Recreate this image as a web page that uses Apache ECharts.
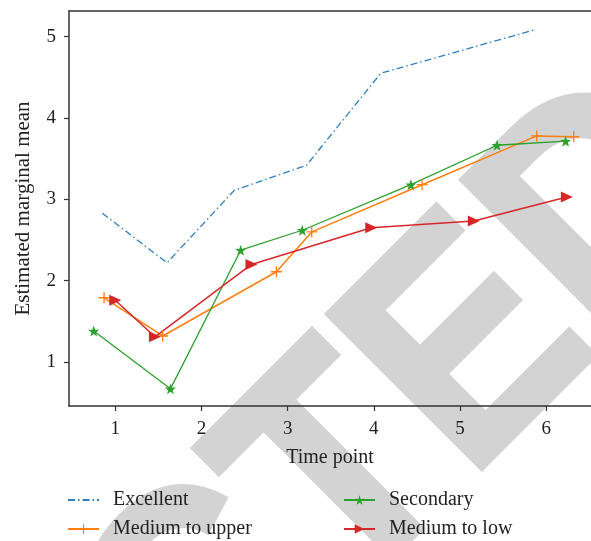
<!DOCTYPE html>
<html>
<head>
<meta charset="utf-8">
<script src="https://cdn.jsdelivr.net/npm/echarts@6/dist/echarts.min.js"></script>
<style>
  html, body { margin: 0; padding: 0; background: #fff; }
  #chart { width: 591px; height: 541px; }
</style>
</head>
<body>
<div id="chart"></div>
<script>
// values
const xTicks = [1, 2, 3, 4, 5, 6];
const yTicks = [1, 2, 3, 4, 5];

const excellentX = [0.85, 1.6, 2.38, 3.22, 4.08, 5.85];
const excellentY = [2.83, 2.22, 3.11, 3.42, 4.55, 5.08];

const upperX = [0.87, 1.55, 2.87, 3.28, 4.56, 5.89, 6.32];
const upperY = [1.79, 1.32, 2.11, 2.6, 3.18, 3.78, 3.77];

const secondaryX = [0.75, 1.64, 2.455, 3.17, 4.43, 5.43, 6.225];
const secondaryY = [1.38, 0.67, 2.375, 2.62, 3.18, 3.665, 3.715];

const lowX = [1.0, 1.46, 2.58, 3.97, 5.16, 6.24];
const lowY = [1.76, 1.31, 2.2, 2.65, 2.735, 3.03];

const pairs = (xs, ys) => xs.map((x, i) => [x, ys[i]]);

const FONT = '"Liberation Serif", "Times New Roman", serif';
const INK = '#222';

const plusPath = 'path://M4.4,0h1.2v4.4h4.4v1.2h-4.4v4.4h-1.2v-4.4h-4.4v-1.2h4.4z';
const starPath = 'path://M50,0L61.8,35.1L97.6,34.5L69,56.3L79.4,90.5L50,70L20.6,90.5L31,56.3L2.4,34.5L38.2,35.1Z';

const legendText = { fontFamily: FONT, fontSize: 20, color: INK, padding: [0, 0, 0, 9] };

// grey diagonal watermark text
const wmStyle = {
  font: 'bold 316px "Liberation Sans"', fill: '#d3d3d3',
  stroke: '#d3d3d3', lineWidth: 6, lineJoin: 'miter', verticalAlign: 'middle'
};

let option = {
  animation: false,
  grid: { left: 69, top: 11, right: 0, bottom: 135 },
  graphic: [
    {
      type: 'group',
      x: 489,
      y: 473,
      rotation: Math.PI / 4,
      scaleX: 0.9,
      z: -1,
      silent: true,
      children: [
        { type: 'text', x: -23, y: -96, z: -1, style: Object.assign({ text: 'RETRACT', align: 'right' }, wmStyle) },
        { type: 'text', x: -23, y: -96, z: -1, style: Object.assign({ text: 'ED', align: 'left' }, wmStyle) }
      ]
    }
  ],
  legend: [
    {
      orient: 'vertical', left: 67, top: 490, padding: 0, itemWidth: 31, itemHeight: 12, itemGap: 9,
      data: [{ name: 'Excellent', itemStyle: { opacity: 0 } }, 'Medium to upper'],
      textStyle: legendText
    },
    {
      orient: 'vertical', left: 343, top: 490, padding: 0, itemWidth: 31, itemHeight: 12, itemGap: 9,
      data: ['Secondary', 'Medium to low'], textStyle: legendText
    }
  ],
  xAxis: [
    {
      type: 'value', min: 0.463, max: 6.52, position: 'bottom',
      name: 'Time point', nameLocation: 'middle', nameGap: 42,
      nameTextStyle: { fontFamily: FONT, fontSize: 20, color: INK },
      axisLine: { onZero: false, lineStyle: { color: '#333', width: 1.5 } },
      axisTick: { customValues: xTicks, length: 5, lineStyle: { color: '#333', width: 1.2 } },
      axisLabel: { customValues: xTicks, margin: 14, fontFamily: FONT, fontSize: 19, color: INK },
      splitLine: { show: false }
    },
    {
      type: 'value', min: 0.463, max: 6.52, position: 'top',
      axisLine: { onZero: false, lineStyle: { color: '#333', width: 1.5 } },
      axisTick: { show: false }, axisLabel: { show: false }, splitLine: { show: false }
    }
  ],
  yAxis: {
    type: 'value', min: 0.459, max: 5.316,
    name: 'Estimated marginal mean', nameLocation: 'middle', nameGap: 35,
    nameTextStyle: { fontFamily: FONT, fontSize: 21, color: INK },
    axisLine: { show: true, onZero: false, lineStyle: { color: '#333', width: 1.5 } },
    axisTick: { show: true, customValues: yTicks, length: 5, lineStyle: { color: '#333', width: 1.2 } },
    axisLabel: { customValues: yTicks, margin: 13, fontFamily: FONT, fontSize: 19, color: INK },
    splitLine: { show: false }
  },
  series: [
    {
      name: 'Excellent', type: 'line', data: pairs(excellentX, excellentY),
      symbol: 'circle', showSymbol: false,
      lineStyle: { color: '#2f7fc1', width: 1.3, type: [7, 3, 1.5, 3] },
      itemStyle: { color: '#2f7fc1' }
    },
    {
      name: 'Medium to upper', type: 'line', data: pairs(upperX, upperY),
      symbol: plusPath, symbolSize: 11,
      lineStyle: { color: '#ff7f0e', width: 1.5 },
      itemStyle: { color: '#ff7f0e' }
    },
    {
      name: 'Secondary', type: 'line', data: pairs(secondaryX, secondaryY),
      symbol: starPath, symbolSize: 11,
      lineStyle: { color: '#2ca02c', width: 1.3 },
      itemStyle: { color: '#2ca02c' }
    },
    {
      name: 'Medium to low', type: 'line', data: pairs(lowX, lowY),
      symbol: 'triangle', symbolSize: [11, 12], symbolRotate: -90,
      lineStyle: { color: '#d62728', width: 1.5 },
      itemStyle: { color: '#d62728' }
    }
  ]
};

let myChart = echarts.init(document.getElementById('chart'));
myChart.setOption(option);
</script>
</body>
</html>
